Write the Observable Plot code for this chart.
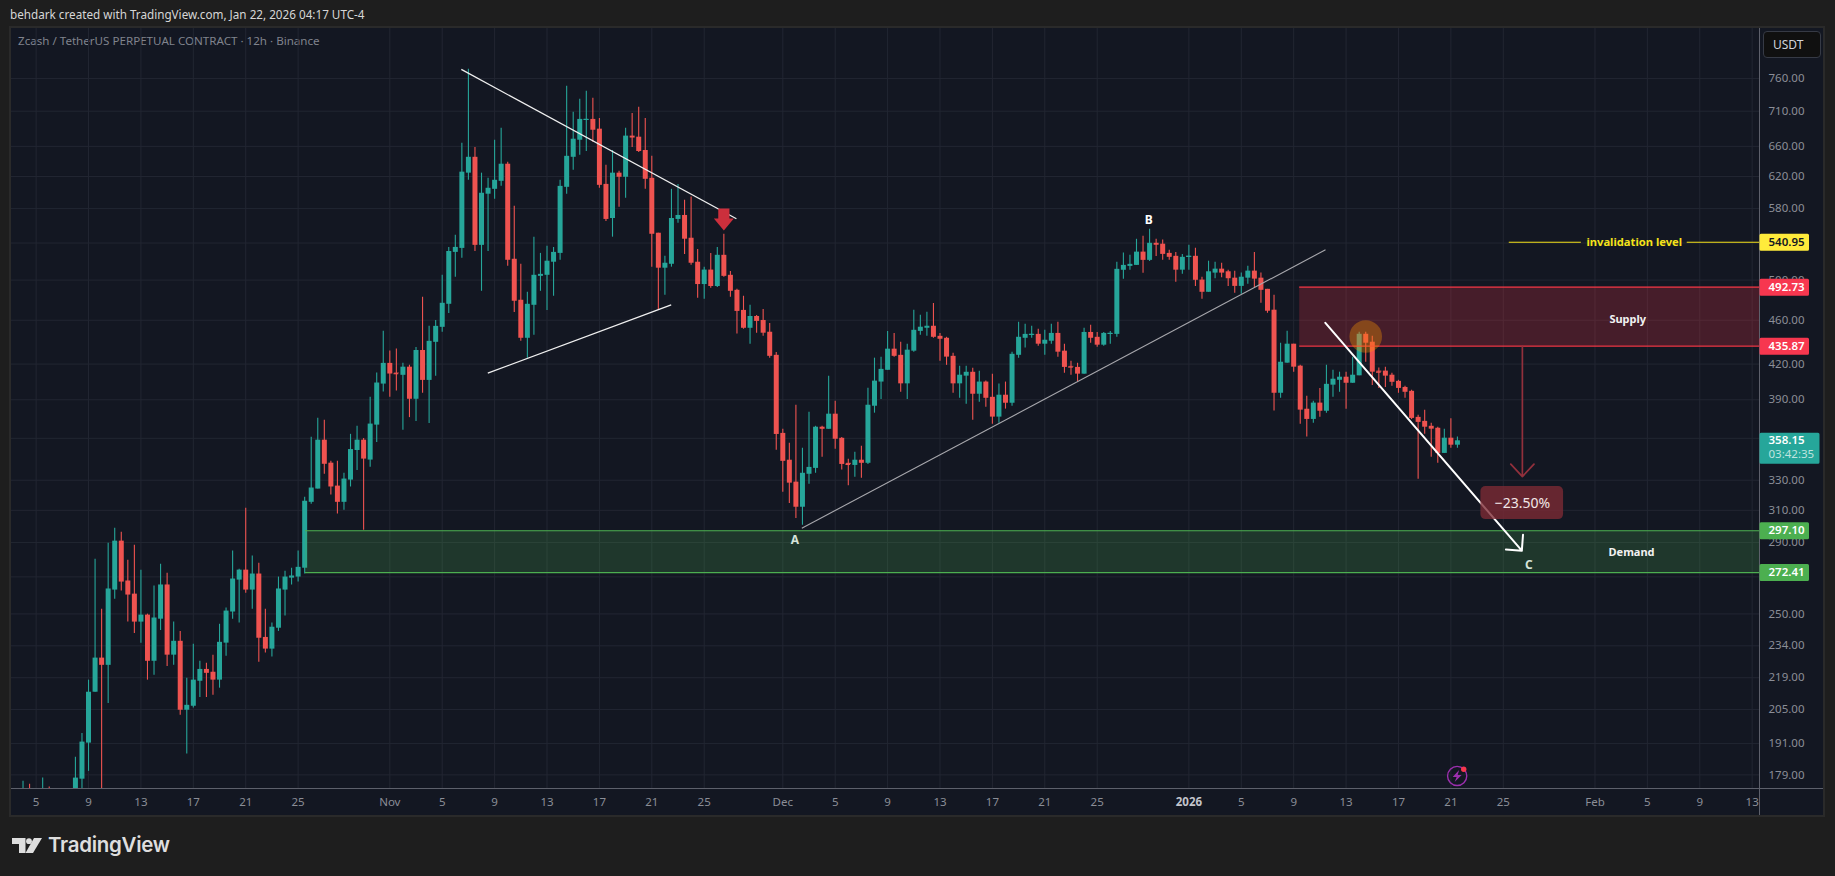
<!DOCTYPE html>
<html><head><meta charset="utf-8">
<script src="https://cdn.jsdelivr.net/npm/d3@7"></script>
<script src="https://cdn.jsdelivr.net/npm/@observablehq/plot@0.6"></script>
<style>
html,body{margin:0;padding:0;background:#1e1e1e;overflow:hidden;width:1835px;height:876px;font-family:"Noto Sans",sans-serif}
#wrap{position:relative;width:1835px;height:876px}
#panel{position:absolute;left:9px;top:26px;width:1812px;height:787px;background:#131722;border:2px solid #2a2a2a;box-sizing:content-box}
#chart{position:absolute;left:0;top:0}
.hl{position:absolute;background:#5d606b}
.tx{position:absolute;white-space:nowrap}
</style></head><body>
<div id="wrap">
<div id="panel"></div>
<div class="hl" style="left:11px;top:788px;width:1812px;height:1px"></div>
<div class="hl" style="left:1759px;top:28px;width:1px;height:787px"></div>
<div class="tx" style="left:10px;top:6px;font-size:11.7px;color:#d6d6d6">behdark created with TradingView.com, Jan 22, 2026 04:17 UTC-4</div>
<div class="tx" style="left:18px;top:33px;font-size:11.6px;color:#80838d">Zcash / TetherUS PERPETUAL CONTRACT · 12h · Binance</div>
<div class="tx" style="left:1763px;top:31px;width:56px;height:25px;background:#101010;border:1px solid #363a45;border-radius:4px;box-sizing:content-box;font-size:12px;line-height:25px;color:#d1d4dc;text-indent:9px">USDT</div>
<svg class="tx" style="left:12px;top:838px" width="30" height="15" viewBox="0 0 30 15"><path fill="#dedede" d="M0 0H13.5V15H7V6H0Z"/><circle cx="17" cy="3.2" r="2.9" fill="#dedede"/><path fill="#dedede" d="M22 0H30L21 15H13.5Z"/></svg>
<div class="tx" style="left:48px;top:832px;font-family:Inter,sans-serif;font-size:20.5px;font-weight:600;color:#dedede;letter-spacing:-.3px">TradingView</div>
<div id="chart"></div>
</div>
<script>
const startDate = "2025-10-04T00:00Z";
const opens = [168,172,168,170,172,168,170,166,172,177.4,
191.2,212.5,228.1,224.7,262.7,290.8,267.7,260.5,245.8,249.4,
226.6,247.3,265.5,229.5,236.2,204.7,206.4,217.4,222.8,221.5,
217.9,235.3,251,268.2,273.8,262.7,271.6,238.1,232.4,242.7,
262.7,269.3,269.9,274.9,315.2,324,358.6,341.9,326,315.2,
330.1,351,358.6,344.1,370,402.9,420.6,412.2,410.3,417.3,
390.4,432,406,439.4,453.3,475.5,529.6,534,624.3,645.2,
537.4,597.6,603.7,613.8,636,522.1,479.5,443.1,474.5,503.9,
505,518.9,528.5,606.2,645.2,668.5,696.6,698,684,609.9,
568.2,624.3,619,674.2,672.7,654.4,617.7,551.1,512.5,516.7,
567.1,571.8,545.4,518.9,495.4,510.5,493.4,526.4,505,489.5,
469.5,452.4,463.6,459.8,448.7,427.7,363.7,344,328.7,312,
334.1,338.2,368.4,366.8,378.5,360,341.8,340.3,344,341.8,
384.8,404.6,414.6,433.2,427.7,403.1,431.4,449.5,452.4,454.3,
444.9,443.1,426.8,403.1,409.6,412.9,394.5,404.6,392,376.2,
393.7,387.2,427.7,443.1,445.8,446.7,437.7,440.4,447.6,431.4,
418,417.1,411.3,448.5,444,436.8,446.7,446.7,510.3,514.4,
515.5,529.9,520.9,539.7,538.7,528.5,525.3,510.4,524.2,525.3,
500,487.5,507.3,511.5,508.7,502,493.5,502,509.4,502,
490.5,469.7,395.3,420.8,437.7,418.2,382.4,374.4,387.3,380.8,
402,406.1,408.7,403.6,409.9,446.8,439.5,413.9,413.9,410.4,
405.2,400.1,396.9,376,372.9,369.1,367.6,348.9,360.1,354.9];
const highs = [176.6,175.5,172,177.8,174.5,172,172,172,185.7,195,
217.9,280.1,252.5,289.6,298.7,296.2,279.5,288.4,273.8,249.9,
264.9,277.2,272.1,245.8,241.1,218.8,234.8,226.6,225.7,229.5,
244.7,253.1,284.9,274.3,311.4,281.9,277.8,252.5,245.3,269.9,
273.2,274.9,284.9,318.5,360.8,375.4,373.8,343.3,343.3,334.9,
363,369.2,359.8,392.1,412.2,449.6,431.5,433.3,420.7,419,
434.8,482.5,454.2,459.8,505,535.1,548.8,664.2,774.8,658.6,
624.3,617.7,668.5,685.4,638.7,582.9,516.7,487.5,546.6,528.5,
536.3,535.1,615.1,747.6,708.3,727.9,740,729.5,699.4,634.7,
654.4,626.9,685.4,706.8,716,699.4,646.5,551.1,525.3,603.7,
609.9,590.2,594,532.8,513.6,528.5,535.1,550,509.1,490.5,
483.5,474.5,464.6,470.5,457,430.3,366.8,356.4,385.6,352.7,
380.1,369.1,369.1,409.6,388.7,360.7,344.7,349.8,354.2,399.5,
425.2,426.1,449.5,447.6,439.5,437.7,469.7,464.9,467.8,476.4,
447.6,444,429.6,418,418,416.3,413.8,405.4,411.3,402.9,
404.6,430.5,458.1,456.3,454.3,451.5,450.5,456.3,458.1,437.7,
422.5,420.7,452.4,455.3,448.5,448.5,449.5,518.8,528.8,526.6,
544.2,547.6,555.6,544.2,543.3,531.9,529.6,527.4,537.6,534.2,
503,520,519,517.9,510.4,509.3,507.3,514.7,529.6,507.3,
490.5,484.5,438.6,449.7,437.7,419,392.9,388.9,399.3,419,
414.7,413,413,426,448.7,448.7,445,416.5,417.3,412,
406.1,401,397.7,377.6,381.6,371.4,368.4,366.9,375,360.9];
const lows = [165,165,165,166,165,164,162,162,170,172,
180.3,212.5,160,207.6,257.8,262.2,245.8,240.1,235.3,217.9,
220.1,241.6,224.2,224.7,202.6,186.9,205.6,210.2,210.2,211.2,
214.3,229,247.3,245.3,261,252.5,226.1,230.5,228.6,241.1,
248.9,265.5,267.1,271.6,313.9,324,334.2,320,307.6,310.1,
325.4,336.8,297.4,339,356.9,396.3,392.1,397.2,366,375.8,
372.8,395.3,371.3,409.5,448.7,466.6,502.9,523.2,615.1,530.6,
488.5,530.6,591.4,607.4,514.6,467.5,440.3,425.1,445.9,488.5,
469.5,483.5,521,597.6,628.2,647.8,653,665.7,605,564.8,
546.6,581.7,592.6,658.6,651.7,603.7,513.6,469.5,484.5,513.6,
562.6,527.4,515.7,481.5,480.5,491.5,492.4,502.9,482.5,447.1,
451.5,437.6,447.8,445,425.1,351.2,321.9,314.5,304.8,300.5,
327.3,334.8,346.1,366.8,352,337,326.2,332,331.4,341,
379.3,390.3,414.6,426.1,396.2,390.3,430.5,445.8,444.9,443.1,
422.5,418.9,395.4,391.2,386.4,373.8,387.9,384,370.7,371.5,
382.5,384.8,425.2,434.2,443.1,435.9,427.7,437.7,426.1,412,
410.4,404.6,411.3,438.6,435,435.9,437.7,444,501,510.3,
515.5,507.2,519.8,525.2,521,521,497.7,506.2,510.4,493.5,
480.5,487.5,501.4,502.4,493.5,486.5,485.5,495.6,491.5,476.6,
466.7,381.1,391.3,420.8,413,370.6,360.9,371.4,376,379.2,
392.1,396.1,382.4,403.6,409.9,421.6,401.8,399.3,400.1,401,
395.3,391.3,374.4,330.7,363.1,346.1,341.8,348.9,352.6,352.6];
const closes = [172,170,171,172,168,170,166,170,177.8,191.6,
212.5,228.1,224.7,263.3,290.8,267.1,260,245.8,249.4,226.6,
247.9,265.5,229.5,236.2,204.7,206.8,217.9,222.8,221,217.9,
235.7,251.5,268.8,273.8,262.7,271.6,237.7,232.4,243.2,263.3,
269.9,270.5,275.4,315.9,324.7,358.6,341.1,325.4,315.2,330.8,
351.7,358.6,344.8,370.8,403.8,420.6,411.4,411.7,417.3,390.4,
432,406,440.3,454.2,476.5,530.6,535.1,625.6,645.2,537.4,
598.8,605,615.1,636,521,478.5,443.1,475.5,505,506,
520,529.6,607.4,646.5,669.9,698,698,682.5,608.7,567.1,
624.3,619,674.2,671.5,653,616.4,549.9,512.5,517.8,568.2,
571.8,544.3,517.8,495.4,510.5,493.4,526.4,503.9,488.5,468.5,
452.4,463.6,458.9,447.8,426.8,362.9,343.2,328,312,334.8,
338.9,368.4,366.8,378.5,359.3,341,341,344,341.8,385.6,
405.4,415.4,433.2,426.8,403.1,432.3,450.5,453.4,454.3,444,
442.2,426.1,403.1,410.4,412.9,394.5,404.6,391.2,376.2,393.7,
387.2,428.6,444,446.7,446.7,437.7,441.3,447.6,430.5,417.1,
417.4,411.3,448.5,443.1,436.8,447.6,447.6,511.3,515.5,516.6,
529.9,520.9,539.7,537.5,527.4,524.2,510.4,524.2,525.3,499.8,
487.5,508.7,511.5,507.3,501.4,493.5,503,509.4,501,489.5,
468.7,395.3,421.6,437.7,417.3,381.7,374.4,387.3,380.8,402.7,
407,408.7,403.6,410.4,446.8,438.6,413,413,409.6,404.4,
399.3,396.1,375.2,372.1,368.4,366.9,348.9,360.1,354.9,358.15];

const gridPrices = [760,710,660,620,580,540,500,460,420,390,360,330,310,290,270,250,234,219,205,191,179];
const labelPrices = [760,710,660,620,580,500,460,420,390,330,310,290,250,234,219,205,191,179];
const xTickDates = ["2025-10-05","2025-10-09","2025-10-13","2025-10-17","2025-10-21","2025-10-25","2025-11-01","2025-11-05","2025-11-09","2025-11-13","2025-11-17","2025-11-21","2025-11-25","2025-12-01","2025-12-05","2025-12-09","2025-12-13","2025-12-17","2025-12-21","2025-12-25","2026-01-05","2026-01-09","2026-01-13","2026-01-17","2026-01-21","2026-01-25","2026-02-01","2026-02-05","2026-02-09","2026-02-13"];
const xTickLabels = ["5","9","13","17","21","25","Nov","5","9","13","17","21","25","Dec","5","9","13","17","21","25","5","9","13","17","21","25","Feb","5","9","13"];
const yearTick = "2026-01-01", yearLabel = "2026";
const xDomain = ["2025-10-03T02:53Z","2026-02-13T13:26Z"];
const yDomain = [174,843];

const supply = [492.73,435.87], demand = [297.10,272.41], supplyStart = "2026-01-09T11:00Z", demandStart = "2025-10-25T13:30Z";
const trendFrom = ["2025-11-06T11:00Z","2025-11-08T11:30Z"], trendFromP = [774.3,412.2];
const trendTo = ["2025-11-27T11:00Z","2025-11-22T11:30Z"], trendToP = [567.9,475];
const grayFrom = "2025-12-02T10:48Z", grayFromP = 298.7, grayTo = "2026-01-11T10:20Z", grayToP = 532.5;
const whiteArrow = {from:"2026-01-11T10:00Z", fromP:457.5, to:"2026-01-26T10:00Z", toP:285.1};
const redArrow = {at:"2026-01-26T11:00Z", fromP:435.87, toP:332.5};
const pctBox = {x1:"2026-01-23T07:00Z", x2:"2026-01-29T14:30Z", p1:304.1, p2:325.7, at:"2026-01-26T11:00Z", p:314.7, label:"−23.50%"};
const letterText = ["A","B","C"], letterDate = ["2025-12-01T22:00Z","2025-12-28T22:30Z","2026-01-26T23:00Z"], letterP = [291.5,566.7,276.4], letterFill = ["#d5e3d9","#ffffff","#d5e3d9"];
const zoneText = ["Supply","Demand"], zoneDate = ["2026-02-03T12:00Z","2026-02-03T19:00Z"], zoneP = [460.7,284.2];
const invalidP = 540.95, invalidSegs = [["2026-01-25T11:00Z","2026-01-30T23:00Z"],["2026-02-08T01:00Z","2026-02-13T13:26Z"]], invalidAt = "2026-02-04T00:00Z", invalidText = "invalidation level";
const circle = {at:"2026-01-14T12:00Z", p:444.7};
const downMark = {at:"2025-11-26T12:00Z", p:567};
const zap = {at:"2026-01-21T11:30Z", p:178.6, dotAt:"2026-01-21T23:30Z", dotP:181.1};
const badgeP = [540.95,492.73,435.87,297.10,272.41];
const badgeFill = ["#ffeb3b","#f7374f","#f7374f","#4caf50","#4caf50"];
const badgeText = ["#131722","#ffffff","#ffffff","#ffffff","#ffffff"];
const lastP = 358.15, countdown = "03:42:35";

const H = 12*3600*1000, t0 = +new Date(startDate);
const candles = closes.map((c,i)=>({date:new Date(t0+i*H),o:opens[i],h:highs[i],l:lows[i],c,up:c>=opens[i]}));
const colr = d=>d.up?"#26a69a":"#ef5350";
const D = s=>new Date(s);
const halfBody = 4.3*3600*1000;

const rr=(c,x0,y0,x1,y1,r)=>{c.moveTo(x0+r,y0);c.arcTo(x1,y0,x1,y1,r);c.arcTo(x1,y1,x0,y1,r);c.arcTo(x0,y1,x0,y0,r);c.arcTo(x0,y0,x1,y0,r);c.closePath();};
const badgeSym={draw(c){rr(c,0,-8.5,49.5,8.5,1.5);}};
const lastSym={draw(c){rr(c,0,-8,60,23,1.5);}};
const downSym={draw(c){c.moveTo(-5.6,-11);c.lineTo(5.6,-11);c.lineTo(5.6,-1);c.lineTo(10,-1);c.lineTo(0,11);c.lineTo(-10,-1);c.lineTo(-5.6,-1);c.closePath();}};
const boltSym={draw(c){c.moveTo(2,-6);c.lineTo(-4.5,1);c.lineTo(-0.5,1);c.lineTo(-2.5,6);c.lineTo(4.5,-1);c.lineTo(0.5,-1);c.closePath();}};

const levelRow = badgeP.map((p,i)=>({p,fill:badgeFill[i],txt:badgeText[i]}));
const grid = "#222632";
const chart = Plot.plot({
  width:1835,height:876,marginLeft:11,marginRight:76,marginTop:28,marginBottom:88,
  style:{background:"transparent",fontFamily:"'Noto Sans',sans-serif",fontSize:"11.5px"},
  x:{type:"utc",domain:xDomain.map(D),label:null},
  y:{type:"log",domain:yDomain,label:null},
  marks:[
    Plot.gridX([...xTickDates,yearTick].map(D),{stroke:grid,strokeOpacity:1}),
    Plot.gridY(gridPrices,{stroke:grid,strokeOpacity:1}),
    Plot.axisY(labelPrices,{anchor:"right",tickSize:0,tickPadding:9,tickFormat:d=>d.toFixed(2),label:null,color:"#8b8e97",fontSize:11.5}),
    Plot.axisX(xTickDates.map(D),{anchor:"bottom",tickSize:0,tickPadding:9,tickFormat:d=>xTickLabels[xTickDates.findIndex(s=>+D(s)===+d)],label:null,color:"#8b8e97",fontSize:11.5}),
    Plot.axisX([D(yearTick)],{anchor:"bottom",tickSize:0,tickPadding:9,tickFormat:()=>yearLabel,label:null,color:"#c3c5cc",fontWeight:700,fontSize:11.5}),
    // candles
    Plot.ruleX(candles,{x:"date",y1:"l",y2:"h",stroke:colr,strokeWidth:1.1,clip:"frame"}),
    Plot.ruleX(candles,{x:"date",y1:"o",y2:"c",stroke:colr,strokeWidth:5,clip:"frame"}),
    Plot.ruleY(candles.filter(d=>Math.abs(d.o-d.c)/d.c<0.004),{y:"c",x1:d=>new Date(+d.date-halfBody),x2:d=>new Date(+d.date+halfBody),stroke:colr,strokeWidth:1.2,clip:"frame"}),
    // zones
    Plot.rect([0],{x1:D(supplyStart),x2:D(xDomain[1]),y1:supply[1],y2:supply[0],fill:"#f23645",fillOpacity:.23}),
    Plot.ruleY(supply,{x1:D(supplyStart),x2:D(xDomain[1]),stroke:"#f23645",strokeWidth:1.2}),
    Plot.rect([0],{x1:D(demandStart),x2:D(xDomain[1]),y1:demand[1],y2:demand[0],fill:"#4caf50",fillOpacity:.22}),
    Plot.ruleY(demand,{x1:D(demandStart),x2:D(xDomain[1]),stroke:"#4caf50",strokeWidth:1.1}),
    // trend lines
    Plot.link(trendFrom.map((d,i)=>i),{x1:i=>D(trendFrom[i]),y1:i=>trendFromP[i],x2:i=>D(trendTo[i]),y2:i=>trendToP[i],stroke:"#f0f0f0",strokeWidth:1.3}),
    Plot.link([0],{x1:D(grayFrom),y1:grayFromP,x2:D(grayTo),y2:grayToP,stroke:"#a8a8ad",strokeWidth:1.1}),
    // circle
    Plot.dot([0],{x:D(circle.at),y:circle.p,r:16.3,fill:"#ff9800",fillOpacity:.34,stroke:"none"}),
    // red arrow
    Plot.arrow([0],{x1:D(redArrow.at),y1:redArrow.fromP,x2:D(redArrow.at),y2:redArrow.toP,stroke:"#92303c",strokeWidth:1.7,headLength:15,headAngle:86}),
    // white arrow
    Plot.arrow([0],{x1:D(whiteArrow.from),y1:whiteArrow.fromP,x2:D(whiteArrow.to),y2:whiteArrow.toP,stroke:"#ffffff",strokeWidth:2,headLength:12,headAngle:90}),
    // pct box
    Plot.rect([0],{x1:D(pctBox.x1),x2:D(pctBox.x2),y1:pctBox.p1,y2:pctBox.p2,fill:"#7e2a35",fillOpacity:.78,rx:5}),
    Plot.text([pctBox.label],{x:D(pctBox.at),y:pctBox.p,text:d=>d,fill:"#f2e6e7",fontSize:14}),
    // down marker
    Plot.dot([0],{x:D(downMark.at),y:downMark.p,symbol:downSym,fill:"#cc2f3c",stroke:"none"}),
    // letters and zone names
    Plot.text(letterText,{x:(d,i)=>D(letterDate[i]),y:(d,i)=>letterP[i],text:d=>d,fill:(d,i)=>letterFill[i],fontWeight:700,fontSize:12}),
    Plot.text(zoneText,{x:(d,i)=>D(zoneDate[i]),y:(d,i)=>zoneP[i],text:d=>d,fill:"#f2f2f2",fontWeight:700,fontSize:11}),
    // invalidation
    Plot.ruleY(invalidSegs,{y:invalidP,x1:d=>D(d[0]),x2:d=>D(d[1]),stroke:"#f5e21a",strokeWidth:1.1}),
    Plot.text([invalidText],{x:D(invalidAt),y:invalidP,text:d=>d,fill:"#f5e21a",fontWeight:700,fontSize:11.2}),
    // zap icon
    Plot.dot([0],{x:D(zap.at),y:zap.p,r:9.6,fill:"none",stroke:"#9c2fae",strokeWidth:1.4}),
    Plot.dot([0],{x:D(zap.at),y:zap.p,symbol:boltSym,fill:"#9c2fae",stroke:"none"}),
    Plot.dot([0],{x:D(zap.dotAt),y:zap.dotP,r:2.7,fill:"#f7374f",stroke:"none"}),
    // right badges
    Plot.dot(levelRow,{y:"p",frameAnchor:"right",symbol:badgeSym,fill:{value:"fill",scale:null},stroke:"none"}),
    Plot.text(levelRow,{y:"p",frameAnchor:"right",dx:9,textAnchor:"start",text:d=>d.p.toFixed(2),fill:{value:"txt",scale:null},fontWeight:600,fontSize:11.5}),
    Plot.dot([lastP],{y:d=>d,frameAnchor:"right",symbol:lastSym,fill:"#26a69a",stroke:"none"}),
    Plot.text([lastP],{y:d=>d,frameAnchor:"right",dx:9,textAnchor:"start",text:d=>d.toFixed(2),fill:"#ffffff",fontWeight:600,fontSize:11.5}),
    Plot.text([countdown],{y:lastP,frameAnchor:"right",dx:9,dy:14,textAnchor:"start",text:d=>d,fill:"#bfe3df",fontSize:11.5})
  ]
});
document.getElementById("chart").appendChild(chart);
</script>
</body></html>
